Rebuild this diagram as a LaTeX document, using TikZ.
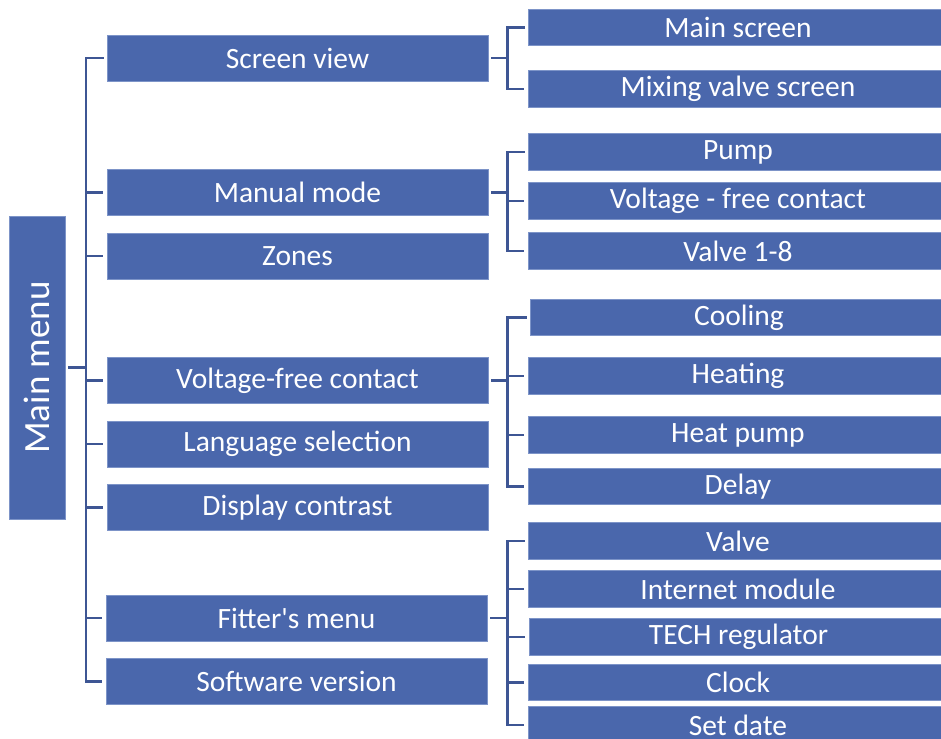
\documentclass[tikz,border=0pt]{standalone}
\usepackage{fontspec}
\newfontfamily\carl{Carlito}
\definecolor{boxblue}{RGB}{74,103,172}
\definecolor{boxedge}{RGB}{125,148,200}
\definecolor{linkblue}{RGB}{62,86,148}
\begin{document}
\begin{tikzpicture}[x=1pt,y=-1pt,
  box/.style={rectangle, fill=boxblue, draw=boxedge, line width=0.6pt, text=white,
    inner sep=0pt, font=\carl\fontsize{29.5}{31}\selectfont},
  lbox/.style={box, minimum width=381pt, minimum height=46pt},
  rbox/.style={box, minimum width=420pt, minimum height=36.5pt},
  conn/.style={draw=linkblue, line width=2.4pt, shorten <=3pt, shorten >=3.5pt},
  link/.style={draw=linkblue, line width=2.4pt}]
\useasboundingbox (0,0) rectangle (941,738);
\clip (0,0) rectangle (941,738);
% root
\node[box, minimum width=56pt, minimum height=303pt] (root) at (37,367.5) {};
\node[rotate=90, text=white, font=\carl\fontsize{37}{40}\selectfont, inner sep=0pt] (roottxt) at (root.center) {Main menu};
% level 1
\node[lbox] (sv) at (297.5,58) {Screen view};
\node[lbox] (mm) at (297.5,192.5) {Manual mode};
\node[lbox] (zo) at (297.5,256) {Zones};
\node[lbox] (vfc) at (297.5,380.5) {Voltage-free contact};
\node[lbox] (ls) at (297.5,444) {Language selection};
\node[lbox] (dc) at (297.5,507.5) {Display contrast};
\node[lbox] (fm) at (296.5,618) {Fitter's menu};
\node[lbox] (sw) at (296.5,681.5) {Software version};
% level 2
\node[rbox] (ms) at (738,27.5) {Main screen};
\node[rbox] (mvs) at (738,89) {Mixing valve screen};
\node[rbox] (pump) at (738,152) {Pump};
\node[rbox] (vfcc) at (738,201) {Voltage - free contact};
\node[rbox] (v18) at (738,251) {Valve 1-8};
\node[rbox, minimum width=418pt] (cool) at (739,317.5) {Cooling};
\node[rbox] (heat) at (738,376) {Heating};
\node[rbox] (hp) at (738,435) {Heat pump};
\node[rbox] (delay) at (738,486.5) {Delay};
\node[rbox] (valve) at (738,541) {Valve};
\node[rbox] (im) at (738,589) {Internet module};
\node[rbox, minimum width=419pt] (tech) at (738.5,637) {TECH regulator};
\node[rbox] (clock) at (738,682.5) {Clock};
\node[rbox] (sd) at (738,725) {Set date};
% trunk coordinates
\coordinate (trunk) at (86,0);
\coordinate (b) at (507.5,0);
% main trunk
\draw[link, line width=3.2pt] ([xshift=3pt]root.east) -- (root.east -| trunk);
\draw[conn] (sv.west) -- (sv.west -| trunk) -- (sw.west -| trunk) -- (sw.west);
\foreach \n in {mm,zo,vfc,ls,dc,fm}{
  \draw[conn, shorten <=0pt] (\n.west -| trunk) -- (\n.west);
}
% sub brackets
\foreach \p/\f/\l in {sv/ms/mvs, mm/pump/v18, vfc/cool/delay, fm/valve/sd}{
  \draw[conn, shorten >=0pt] (\p.east) -- (\p.east -| b);
  \draw[conn] (\f.west) -- (\f.west -| b) -- (\l.west -| b) -- (\l.west);
}
\foreach \n in {vfcc, heat, hp, im, tech, clock}{
  \draw[conn, shorten <=0pt] (\n.west -| b) -- (\n.west);
}
\end{tikzpicture}
\end{document}
